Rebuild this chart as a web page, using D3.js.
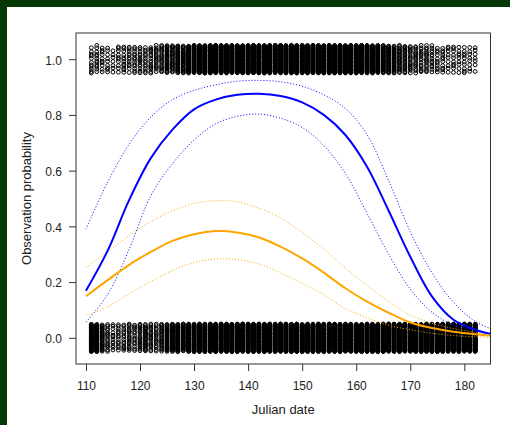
<!DOCTYPE html>
<html>
<head>
<meta charset="utf-8">
<script src="https://cdn.jsdelivr.net/npm/d3@7"></script>
<style>
  body { margin: 0; background: #053805; }
  svg { display: block; font-family: "Liberation Sans", Arial, sans-serif; }
</style>
</head>
<body>
<svg></svg>
<script>
// observation days (one column of jittered points per day)
const days = d3.range(111, 183);
// number of detections (y = 1) per day
const onesN = [11, 12, 10, 9, 7, 10, 12, 12, 13, 14, 13, 15, 17, 19, 30, 24, 40, 32, 50, 56,
               64, 70, 75, 80, 80, 80, 80, 80, 80, 80, 80, 80, 80, 80, 80, 80, 80, 80, 80, 80,
               80, 80, 80, 80, 80, 80, 80, 78, 76, 74, 70, 66, 60, 54, 46, 40, 34, 26, 22, 18,
               17, 15, 16, 13, 11, 11, 9, 10, 9, 10, 8, 7];
// number of non-detections (y = 0) per day
const zerosN = [70, 64, 30, 16, 12, 13, 14, 18, 14, 20, 28, 18, 16, 24, 36, 50, 60, 44, 70, 60,
                70, 60, 75, 80, 80, 80, 80, 80, 80, 80, 80, 80, 80, 80, 80, 80, 80, 80, 80, 80,
                80, 80, 80, 80, 80, 80, 80, 80, 80, 80, 80, 80, 80, 80, 80, 80, 80, 80, 80, 80,
                80, 80, 80, 80, 80, 80, 80, 80, 80, 80, 80, 80];

// fitted curves
const curveDays = [110, 114, 118, 122, 126, 130, 134, 138, 142, 146, 150, 154, 158, 162, 166, 170, 174, 178, 182, 185];
const blueFit   = [0.169, 0.312, 0.495, 0.645, 0.747, 0.820, 0.855, 0.872, 0.876, 0.868, 0.845, 0.800, 0.728, 0.614, 0.456, 0.291, 0.149, 0.065, 0.029, 0.013];
const blueHi    = [0.390, 0.558, 0.695, 0.792, 0.855, 0.888, 0.908, 0.921, 0.924, 0.919, 0.903, 0.872, 0.823, 0.729, 0.564, 0.381, 0.234, 0.127, 0.059, 0.032];
const blueLo    = [0.056, 0.155, 0.318, 0.510, 0.625, 0.710, 0.768, 0.795, 0.803, 0.788, 0.755, 0.690, 0.590, 0.447, 0.300, 0.175, 0.092, 0.046, 0.028, 0.017];
const orangeFit = [0.149, 0.207, 0.262, 0.308, 0.348, 0.372, 0.383, 0.378, 0.360, 0.327, 0.285, 0.234, 0.178, 0.130, 0.090, 0.055, 0.035, 0.022, 0.013, 0.008];
const orangeHi  = [0.253, 0.308, 0.367, 0.417, 0.456, 0.482, 0.492, 0.488, 0.465, 0.430, 0.378, 0.318, 0.250, 0.188, 0.130, 0.082, 0.052, 0.033, 0.020, 0.014];
const orangeLo  = [0.080, 0.111, 0.158, 0.202, 0.242, 0.270, 0.283, 0.281, 0.265, 0.233, 0.195, 0.155, 0.105, 0.072, 0.045, 0.029, 0.016, 0.008, 0.004, 0.002];

const xTicks = [110, 120, 130, 140, 150, 160, 170, 180];
const yTicks = [0, 0.2, 0.4, 0.6, 0.8, 1.0];

const [W, H] = [510, 425];
const [pL, pR, pT, pB] = [76, 490.5, 33, 364];

const svg = d3.select('svg').attr('width', W).attr('height', H);

svg.append('rect').attr('width', W).attr('height', H).attr('fill', '#053805');
svg.append('rect').attr('x', 7).attr('y', 7).attr('width', W - 7).attr('height', H - 7).attr('fill', '#fff');

const x = d3.scaleLinear().domain([108.16, 184.84]).range([pL, pR]);
const y = d3.scaleLinear().domain([-0.094, 1.094]).range([pB, pT]);

svg.append('clipPath').attr('id', 'plot')
  .append('rect').attr('x', pL).attr('y', pT).attr('width', pR - pL).attr('height', pB - pT);

// jittered raw observations
const pts = [];
days.forEach((d, k) => {
  [[1, onesN[k]], [0, zerosN[k]]].forEach(([v, n]) => {
    for (let i = 0; i < n; i++) {
      const f = (i * 0.6180339887 + d * 0.377 + v * 0.21) % 1;
      pts.push({ day: d, val: v + (f - 0.5) * 0.1 });
    }
  });
});

svg.append('g')
  .selectAll('circle')
  .data(pts)
  .enter()
  .append('circle')
    .attr('cx', p => x(p.day))
    .attr('cy', p => y(p.val))
    .attr('r', 1.9)
    .attr('fill', 'none')
    .attr('stroke', '#000')
    .attr('stroke-width', 1);

const lines = svg.append('g').attr('clip-path', 'url(#plot)');
const line = d3.line().x((v, i) => x(curveDays[i])).y(v => y(v)).curve(d3.curveCatmullRom.alpha(0.5));

[
  [blueHi, '#0000ff', true], [blueLo, '#0000ff', true],
  [orangeHi, '#ffa500', true], [orangeLo, '#ffa500', true],
  [blueFit, '#0000ff', false], [orangeFit, '#ffa500', false]
].forEach(([vals, col, dotted]) => {
  lines.append('path')
    .attr('d', line(vals))
    .attr('fill', 'none')
    .attr('stroke', col)
    .attr('stroke-width', dotted ? 1 : 2)
    .attr('stroke-dasharray', dotted ? '1,2' : null);
});

// axes
const xAxis = svg.append('g')
  .attr('transform', `translate(0, ${pB})`)
  .call(d3.axisBottom(x).tickValues(xTicks).tickSize(7).tickPadding(10).tickFormat(d3.format('d')));
const yAxis = svg.append('g')
  .attr('transform', `translate(${pL}, 0)`)
  .call(d3.axisLeft(y).tickValues(yTicks).tickSize(7).tickPadding(7).tickFormat(d3.format('.1f')));

[xAxis, yAxis].forEach(g => {
  g.select('.domain').remove();
  g.selectAll('line').attr('stroke', '#333');
  g.selectAll('text').attr('font-size', 12).attr('fill', '#222')
    .attr('font-family', '"Liberation Sans", Arial, sans-serif');
});
yAxis.selectAll('text').attr('dy', '0.4em');

svg.append('rect')
  .attr('x', pL).attr('y', pT)
  .attr('width', pR - pL).attr('height', pB - pT)
  .attr('fill', 'none').attr('stroke', '#333').attr('stroke-width', 1);

svg.append('text')
  .attr('x', (pL + pR) / 2).attr('y', 414)
  .attr('text-anchor', 'middle').attr('font-size', 13).attr('fill', '#222')
  .text('Julian date');

svg.append('text')
  .attr('transform', `translate(31, ${(pT + pB) / 2}) rotate(-90)`)
  .attr('text-anchor', 'middle').attr('font-size', 13).attr('fill', '#222')
  .text('Observation probability');
</script>
</body>
</html>
